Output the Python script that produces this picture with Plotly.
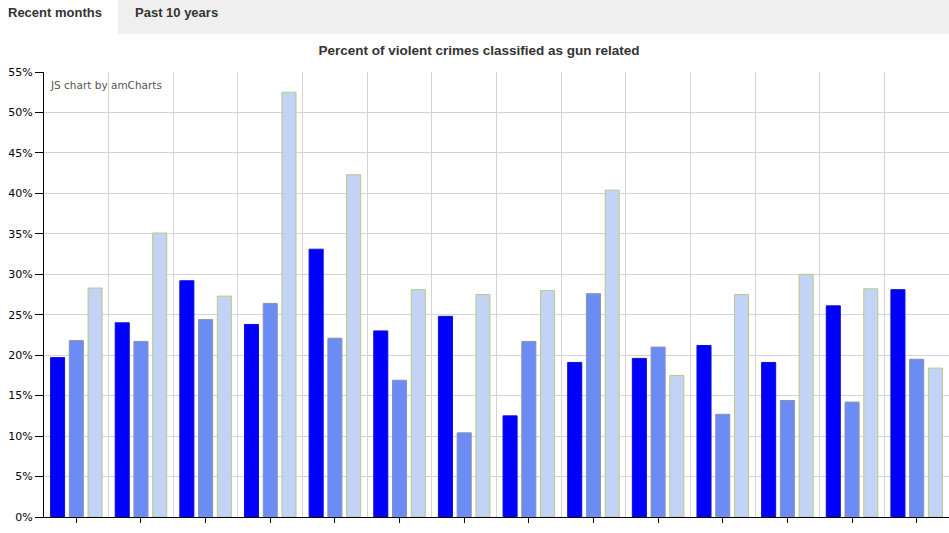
import plotly.graph_objects as go

# chart data
categories = ["District 1", "District 2", "District 3", "District 4", "District 5",
              "District 6", "District 7", "District 8", "District 9", "District 10",
              "District 11", "District 12", "District 13", "District 14"]
series_names = ["Month 1", "Month 2", "Month 3"]
month1 = [19.7, 24.0, 29.2, 23.8, 33.1, 23.0, 24.8, 12.5, 19.1, 19.6, 21.2, 19.1, 26.1, 28.1]
month2 = [21.8, 21.7, 24.4, 26.4, 22.1, 16.9, 10.4, 21.7, 27.6, 21.0, 12.7, 14.4, 14.2, 19.5]
month3 = [28.3, 35.1, 27.3, 52.5, 42.3, 28.1, 27.5, 28.0, 40.4, 17.5, 27.5, 30.0, 28.2, 18.4]
y_ticks = list(range(0, 60, 5))

W, H = 949, 533
L, R, T, B = 44, 0, 72, 16
pw, ph = W - L - R, H - T - B


def px_x(px):
    return (px - L) / pw


def px_y(py):
    return (H - B - py) / ph


x = list(range(len(categories)))
fills = ["#0000FF", "#6B8CF5", "#C3D3F5"]
edges = ["#1010C8", "#8A93A8", "#B4CC84"]

fig = go.Figure()
for name, vals, fc, ec in zip(series_names, [month1, month2, month3], fills, edges):
    fig.add_bar(x=x, y=vals, name=name, marker=dict(color=fc, line=dict(color=ec, width=1)))

# tab strip at the top
fig.add_shape(type="rect", xref="paper", yref="paper",
              x0=px_x(118), x1=px_x(W + 2), y0=px_y(34), y1=px_y(-2),
              fillcolor="#EFEFEF", line_width=0, layer="below")
fig.add_annotation(text="<b>Recent months</b>", xref="paper", yref="paper",
                   x=px_x(6), y=px_y(13), xanchor="left", yanchor="middle", showarrow=False,
                   font=dict(family="Liberation Sans", size=13, color="#333333"))
fig.add_annotation(text="<b>Past 10 years</b>", xref="paper", yref="paper",
                   x=px_x(133), y=px_y(13), xanchor="left", yanchor="middle", showarrow=False,
                   font=dict(family="Liberation Sans", size=13, color="#333333"))
fig.add_annotation(text="JS chart by amCharts", xref="paper", yref="paper",
                   x=px_x(48), y=px_y(85), xanchor="left", yanchor="middle", showarrow=False,
                   font=dict(family="DejaVu Sans", size=10.5, color="#555555"))

fig.update_layout(
    width=W, height=H,
    margin=dict(l=L, r=R, t=T, b=B, pad=0),
    paper_bgcolor="white", plot_bgcolor="white",
    showlegend=False,
    barmode="group", bargap=0.13, bargroupgap=0.25,
    title=dict(text="<b>Percent of violent crimes classified as gun related</b>",
               x=479 / W, xanchor="center",
               y=1 - 50 / H, yanchor="middle",
               font=dict(family="Liberation Sans", size=13.5, color="#333333")),
    font=dict(family="DejaVu Sans", size=11, color="#000000"),
)
fig.update_xaxes(
    range=[-0.5, len(categories) - 0.5],
    tickvals=x, ticktext=categories,
    ticks="outside", ticklen=5, tickcolor="#000000",
    ticklabelstandoff=9, automargin=False,
    showgrid=False, zeroline=False,
    showline=True, linecolor="#000000", linewidth=1,
    minor=dict(tickvals=[i + 0.5 for i in x], showgrid=True, gridcolor="#D4D4D4", ticks=""),
    tickfont=dict(size=11, color="#000000"),
)
fig.update_yaxes(
    range=[0, 55], tickvals=y_ticks, ticktext=[f"{v}%" for v in y_ticks],
    ticks="outside", ticklen=8, tickcolor="#000000", automargin=False,
    showgrid=True, gridcolor="#D4D4D4", zeroline=False,
    showline=True, linecolor="#000000", linewidth=1,
    tickfont=dict(size=11, color="#000000"),
)

# the page's default body margin would shift the chart by 8px
fig.write_html("out.html", config={"displayModeBar": False},
               post_script="document.body.style.margin='0px';")
